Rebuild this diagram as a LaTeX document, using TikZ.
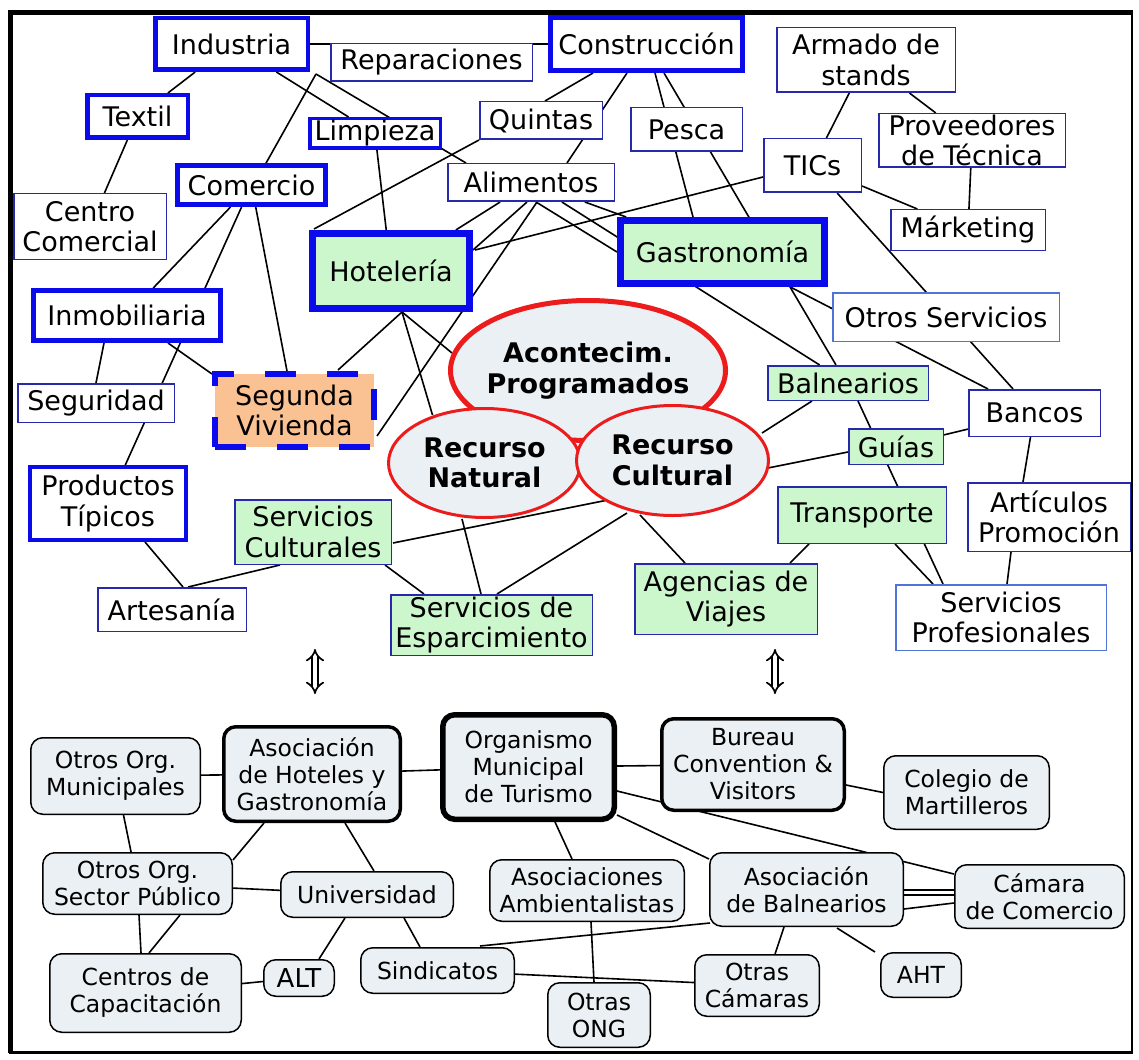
\documentclass[tikz,border=0pt]{standalone}
\usepackage{fontspec}
\setmainfont{DejaVu Sans}
\usetikzlibrary{calc,shapes.geometric,arrows.meta}
\definecolor{cBlue}{RGB}{10,10,235}
\definecolor{cThin}{RGB}{40,40,170}
\definecolor{cLight}{RGB}{80,115,215}
\definecolor{cGreen}{RGB}{204,246,204}
\definecolor{cPeach}{RGB}{250,194,146}
\definecolor{cEll}{RGB}{235,240,244}
\definecolor{cRed}{RGB}{236,28,28}
\definecolor{cBot}{RGB}{234,240,243}
\newcommand\fTop{\fontsize{27}{30.5}\selectfont}
\newcommand\fEl{\fontsize{27}{30.5}\selectfont\bfseries}
\newcommand\fBot{\fontsize{23.5}{27}\selectfont}
\newcommand\fAlt{\fontsize{26}{30}\selectfont}
\pgfdeclarelayer{paper}
\pgfdeclarelayer{bg}
\pgfsetlayers{paper,bg,main}
\begin{document}
\begin{tikzpicture}[x=1pt,y=-1pt,
  sz/.style 2 args={minimum width=#1pt,minimum height=#2pt},
  tn/.style={rectangle,draw=cThin,fill=white,line width=1.5pt,inner sep=0pt,align=center,font=\fTop},
  tk/.style={draw=cBlue,line width=#1},
  tk/.default=4.5pt,
  gr/.style={fill=cGreen},
  lt/.style={draw=cLight},
  el/.style={ellipse,draw=cRed,fill=cEll,inner sep=0pt,align=center,font=\fEl},
  bn/.style={rectangle,rounded corners=12pt,draw=black,fill=cBot,line width=1.5pt,inner sep=0pt,align=center,font=\fBot},
  ln/.style={line width=1.6pt,black},
  dbl/.style={line width=1.7pt,double distance=4.5pt,{Implies}-{Implies}}]
\useasboundingbox (0,0) rectangle (1139,1059);
\begin{pgfonlayer}{paper}
\fill[white] (0,0) rectangle (1139,1059);
\end{pgfonlayer}
% frame
\draw[line width=4.5pt] (1132,12.5) -- (10.5,12.5) -- (10.5,1052.5);
\draw[line width=2.5pt] (1132,10.5) -- (1132,1052.5) -- (8.5,1052.5);

% ---------- top concepts ----------
\node[tn,tk=4.5pt,sz={152.5}{51.5}] (ind) at (231.5,44) {Industria};
\node[tn,sz={201.5}{37.5}] (rep) at (431.5,62.5) {Reparaciones};
\node[tn,tk=4.5pt,sz={100.5}{42.5}] (tex) at (137.5,116.5) {Textil};
\node[tn,tk=3.5pt,sz={130.5}{29.5}] (lim) at (375,133.5) {Limpieza};
\node[tn,tk=5pt,sz={148}{39}] (com) at (251.5,185) {Comercio};
\node[tn,sz={152.5}{65.5}] (cc) at (90,226.5) {Centro\\Comercial};
\node[tn,tk=7pt,gr,sz={157}{75}] (hot) at (391,271) {Hotelería};
\node[tn,sz={166.5}{37.5}] (ali) at (531,182.5) {Alimentos};
\node[tn,sz={122.5}{37.5}] (qui) at (541,120.5) {Quintas};
\node[tn,tk=5pt,sz={192}{53}] (con) at (646.5,44) {Construcción};
\node[tn,sz={111.5}{43.5}] (pes) at (686.5,129.5) {Pesca};
\node[tn,tk=7pt,gr,sz={204}{63}] (gas) at (722.5,252) {Gastronomía};
\node[tn,sz={178.5}{64.5}] (arm) at (866,60) {Armado de\\stands};
\node[tn,sz={186.5}{53.5}] (pro) at (972,140.5) {Proveedores\\de Técnica};
\node[tn,sz={97.5}{53.5}] (tic) at (812.5,165.5) {TICs};
\node[tn,sz={154.5}{40.5}] (mar) at (968,230) {Márketing};
\node[tn,lt,sz={226.5}{48.5}] (ots) at (946,317) {Otros Servicios};
\node[tn,gr,sz={160.5}{34.5}] (bal) at (848,383) {Balnearios};
\node[tn,sz={131.5}{46.5}] (ban) at (1034.5,413) {Bancos};
\node[tn,gr,sz={94.5}{35.5}] (gui) at (896,446.5) {Guías};
\node[tn,gr,sz={168.5}{56.5}] (tra) at (862,515) {Transporte};
\node[tn,sz={162.5}{68.5}] (art) at (1049,517) {Artículos\\Promoción};
\node[tn,lt,sz={210.5}{65.5}] (spr) at (1001,617.5) {Servicios\\Profesionales};
\node[tn,gr,sz={182.5}{70.5}] (age) at (726,599) {Agencias de\\Viajes};
\node[tn,gr,sz={201.5}{60.5}] (esp) at (491.5,625) {Servicios de\\Esparcimiento};
\node[tn,gr,sz={156.5}{64.5}] (scu) at (313,532) {Servicios\\Culturales};
\node[tn,sz={148.5}{43.5}] (arte) at (172,609.5) {Artesanía};
\node[tn,tk=4pt,sz={156}{73}] (pti) at (108,503.5) {Productos\\Típicos};
\node[tn,sz={156.5}{38.5}] (seg) at (96,403) {Seguridad};
\node[tn,tk=5pt,sz={187}{50}] (inm) at (127,315.5) {Inmobiliaria};
\node[tn,draw=cBlue,line width=6pt,fill=cPeach,dash pattern=on 31pt off 31pt,sz={159}{73}] (sv) at (294.5,410.5) {Segunda\\Vivienda};
\coordinate (j1) at (316,74);

% ---------- central ellipses ----------
\node[el,line width=5pt,sz={275}{140}] (aco) at (588,370.5) {\makebox[0pt]{Acontecim.}\\\makebox[0pt]{Programados}};
\node[el,line width=3pt,sz={192}{109}] (nat) at (484.5,463) {Recurso\\Natural};
\node[el,line width=3pt,sz={192}{110}] (cul) at (672.5,460.5) {Recurso\\Cultural};

% ---------- double arrows ----------
\coordinate (a1t) at (315,649); \coordinate (a1b) at (315,694);
\coordinate (a2t) at (775,649); \coordinate (a2b) at (775,694);
\draw[dbl] (a1t) -- (a1b);
\draw[dbl] (a2t) -- (a2b);

% ---------- bottom organisations ----------
\node[bn,sz={169.5}{76.5}] (oom) at (115.5,776) {Otros Org.\\Municipales};
\node[bn,line width=3.5pt,sz={176.5}{94.5}] (aho) at (312,774) {Asociación\\de Hoteles y\\Gastronomía};
\node[bn,line width=5.5pt,sz={171.5}{104.5}] (omt) at (528.5,767) {Organismo\\Municipal\\de Turismo};
\node[bn,line width=3.5pt,sz={182.5}{91.5}] (bcv) at (753,764.5) {Bureau\\Convention \&\\Visitors};
\node[bn,sz={165.5}{73.5}] (cmt) at (966.5,792.5) {Colegio de\\Martilleros};
\node[bn,sz={189.5}{61.5}] (osp) at (137.5,883.5) {Otros Org.\\Sector Público};
\node[bn,sz={172.5}{45.5}] (uni) at (367,894.5) {Universidad};
\node[bn,sz={194.5}{61.5}] (aam) at (587,890.5) {Asociaciones\\Ambientalistas};
\node[bn,sz={193.5}{73.5}] (aba) at (806.5,889.5) {Asociación\\de Balnearios};
\node[bn,sz={169.5}{63.5}] (cco) at (1039.5,896.5) {Cámara\\de Comercio};
\node[bn,sz={191.5}{78.5}] (cca) at (145.5,993) {Centros de\\Capacitación};
\node[bn,font=\fAlt,sz={70.5}{36.5}] (alt) at (299,978) {ALT};
\node[bn,sz={153.5}{45.5}] (sin) at (437.5,970.5) {Sindicatos};
\node[bn,sz={102.5}{64.5}] (ong) at (599,1015) {Otras\\ONG};
\node[bn,sz={124.5}{61.5}] (oca) at (757,985.5) {Otras\\Cámaras};
\node[bn,sz={80.5}{44.5}] (aht) at (921,975) {AHT};

% ---------- connectors ----------
\begin{pgfonlayer}{bg}
\draw[ln] (ind) -- (con);
\draw[ln] (ind) -- (tex);
\draw[ln] (tex) -- (cc);
\draw[ln] (ind) -- (lim);
\draw[ln] (j1) -- ($(com)+(13.5,-20)$);
\draw[ln] (j1) -- ($(ali)+(-65,-19.5)$);
\draw[ln] (com) -- (inm);
\draw[ln] (com) -- (pti);
\draw[ln] (com) -- (sv);
\draw[ln] ($(qui)+(-62,19.5)$) -- ($(hot)+(-77,-42)$);
\draw[ln] (lim) -- (hot);
\draw[ln] ($(con)+(-53.5,29)$) -- ($(qui)+(4,-19.5)$);
\draw[ln] ($(con)+(-19.5,29)$) -- ($(ali)+(36,-19.5)$);
\draw[ln] ($(con)+(8.5,29)$) -- ($(gas)+(-29.5,-35)$);
\draw[ln] ($(con)+(17.5,29)$) -- ($(bal)+(-12,-18)$);
\draw[ln] (ali) -- (hot);
\draw[ln] ($(ali)+(-4,19.5)$) -- ($(hot)+(82,-21)$);
\draw[ln] ($(ali)+(6,19.5)$) -- ($(sv)+(82.5,25.5)$);
\draw[ln] ($(ali)+(5,19.5)$) -- ($(gas)+(-105.5,0)$);
\draw[ln] (ali) -- (bal);
\draw[ln] (ali) -- (gas);
\draw[ln] (gas) -- (ban);
\draw[ln] ($(tic)+(-49.5,11.5)$) -- ($(hot)+(84,-21)$);
\draw[ln] (arm) -- (tic);
\draw[ln] (arm) -- (pro);
\draw[ln] (tic) -- (mar);
\draw[ln] (pro) -- (mar);
\draw[ln] (tic) -- (ban);
\draw[ln] ($(bal)+(10,18)$) -- ($(spr)+(-58,-33.5)$);
\draw[ln] ($(bal)+(-36,18)$) -- ($(cul)+(89.5,-27.5)$);
\draw[ln] (gui) -- (ban);
\draw[ln] ($(gui)+(-48,5.5)$) -- ($(scu)+(80,11)$);
\draw[ln] ($(ban)+(-4,24)$) -- ($(art)+(-26,-35)$);
\draw[ln] ($(art)+(-38,35)$) -- ($(spr)+(6,-33.5)$);
\draw[ln] ($(tra)+(33,29)$) -- ($(spr)+(-68,-33.5)$);
\draw[ln] ($(tra)+(-53,29)$) -- ($(age)+(64,-36)$);
\draw[ln] ($(cul)+(-32.5,54.5)$) -- ($(age)+(-41,-36)$);
\draw[ln] ($(cul)+(-45.5,52.5)$) -- ($(esp)+(5.5,-31)$);
\draw[ln] ($(nat)+(-22.5,56)$) -- ($(esp)+(-10.5,-31)$);
\draw[ln] ($(scu)+(72,33)$) -- ($(esp)+(-67.5,-31)$);
\draw[ln] ($(scu)+(-33,33)$) -- ($(arte)+(16,-22.5)$);
\draw[ln] ($(pti)+(37,38.5)$) -- ($(arte)+(11,-22.5)$);
\draw[ln] ($(inm)+(-23,27.5)$) -- ($(seg)+(0,-20)$);
\draw[ln] ($(inm)+(41,27.5)$) -- ($(sv)+(-82.5,-36.5)$);
\draw[ln] ($(hot)+(11,41)$) -- ($(sv)+(43.5,-40.5)$);
\draw[ln] ($(hot)+(11,41)$) -- ($(nat)+(-52,-48)$);
\draw[ln] ($(hot)+(11,41)$) -- ($(aco)+(-136,-17.5)$);
% bottom
\draw[ln] (oom) -- (aho);
\draw[ln] (aho) -- (omt);
\draw[ln] (oom) -- (osp);
\draw[ln] ($(aho)+(-48,49)$) -- ($(osp)+(95.5,-23.5)$);
\draw[ln] ($(aho)+(33,49)$) -- ($(uni)+(7,-23.5)$);
\draw[ln] (osp) -- (uni);
\draw[ln] ($(osp)+(1.5,31.5)$) -- ($(cca)+(-4.5,-40)$);
\draw[ln] ($(osp)+(42.5,31.5)$) -- ($(cca)+(3.5,-40)$);
\draw[ln] ($(uni)+(-22,23.5)$) -- ($(alt)+(20,-19)$);
\draw[ln] (cca) -- (alt);
\draw[ln] ($(uni)+(37,23.5)$) -- ($(sin)+(-17.5,-23.5)$);
\draw[ln] ($(sin)+(42.5,-24.5)$) -- ($(aba)+(-96.5,33.5)$);
\draw[ln] (sin) -- (oca);
\draw[ln] ($(aam)+(4,31.5)$) -- ($(ong)+(-5,-33)$);
\draw[ln] ($(omt)+(26.5,55)$) -- ($(aam)+(-15,-31.5)$);
\draw[ln] (omt) -- (bcv);
\draw[ln] ($(omt)+(88.5,24)$) -- ($(cco)+(-85.5,-22.5)$);
\draw[ln] ($(omt)+(88.5,48)$) -- ($(aba)+(-97.5,-30.5)$);
\draw[ln] ($(bcv)+(93,20.5)$) -- ($(cmt)+(-83.5,0)$);
\draw[ln] ($(aba)+(97.5,0.5)$) -- ($(cco)+(-85.5,-6.5)$);
\draw[ln] ($(aba)+(97.5,5.5)$) -- ($(cco)+(-85.5,-1.5)$);
\draw[ln] ($(aba)+(97.5,19.5)$) -- ($(cco)+(-85.5,6.5)$);
\draw[ln] ($(aba)+(-22.5,37.5)$) -- ($(oca)+(18,-31.5)$);
\draw[ln] ($(aba)+(30.5,38.5)$) -- ($(aht)+(-46,-23)$);
\end{pgfonlayer}
\end{tikzpicture}
\end{document}
